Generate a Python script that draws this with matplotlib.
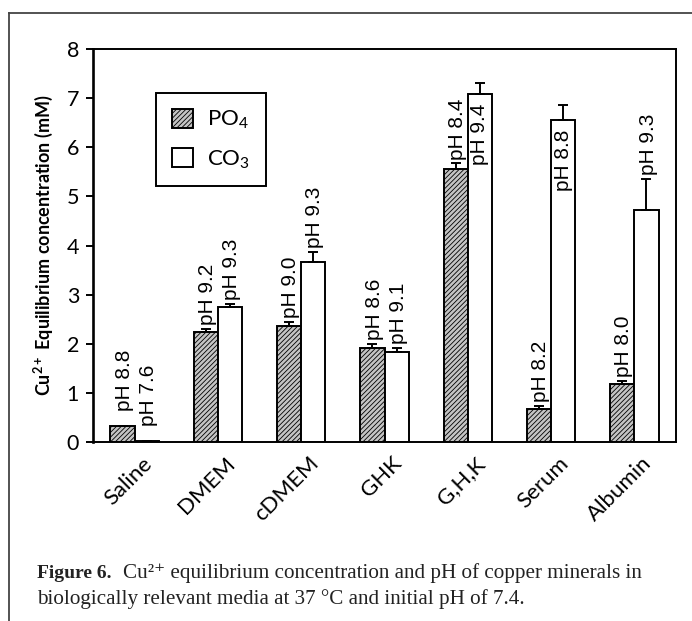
import numpy as np
import matplotlib
matplotlib.use("Agg")
from matplotlib import pyplot as plt
from matplotlib.lines import Line2D
import matplotlib.transforms as mtransforms

categories = ["Saline", "DMEM", "cDMEM", "GHK", "G,H,K", "Serum", "Albumin"]
po4_vals = [0.33, 2.23, 2.37, 1.92, 5.55, 0.68, 1.18]
po4_err = [0.0, 0.07, 0.07, 0.08, 0.12, 0.06, 0.06]
co3_vals = [0.02, 2.74, 3.66, 1.84, 7.08, 6.56, 4.72]
co3_err = [0.0, 0.07, 0.20, 0.07, 0.23, 0.29, 0.64]
po4_ph = ["pH 8.8", "pH 9.2", "pH 9.0", "pH 8.6", "pH 8.4", "pH 8.2", "pH 8.0"]
co3_ph = ["pH 7.6", "pH 9.3", "pH 9.3", "pH 9.1", "pH 9.4", "pH 8.8", "pH 9.3"]
# CO3 labels drawn inside the top of the bar instead of above it
co3_inside = ["G,H,K", "Serum"]

plt.rcParams['font.family'] = ['Lato', 'DejaVu Sans']
plt.rcParams['mathtext.fontset'] = 'custom'
plt.rcParams['mathtext.rm'] = 'Lato'
plt.rcParams['mathtext.bf'] = 'Lato:bold'
plt.rcParams['hatch.linewidth'] = 0.6

fig = plt.figure(figsize=(6.92, 6.21), dpi=100)
ax = fig.add_axes([93/692, 1-442/621, (676-93)/692, (442-49)/621])

x = np.arange(len(categories))
w = 0.29
ax.bar(x - w/2, po4_vals, w, color='#c4c4c4', edgecolor='black',
       linewidth=1.4, hatch='///////', label='PO$_4$')
ax.bar(x + w/2, co3_vals, w, color='white', edgecolor='black',
       linewidth=1.4, label='CO$_3$')
ax.errorbar(x - w/2, po4_vals, yerr=[np.zeros(len(x)), po4_err], fmt='none',
            ecolor='black', elinewidth=1.4, capsize=3.5, capthick=1.4)
ax.errorbar(x + w/2, co3_vals, yerr=[np.zeros(len(x)), co3_err], fmt='none',
            ecolor='black', elinewidth=1.4, capsize=3.5, capthick=1.4)

phfont = dict(family='Liberation Sans', fontsize=15, rotation=90, ha='center')
for i, c in enumerate(categories):
    pad = 0.3 if c == "Saline" else 0.08
    ax.text(x[i] - w/2 + 0.02, po4_vals[i] + po4_err[i] + pad, po4_ph[i], va='bottom', **phfont)
    if c in co3_inside:
        ax.text(x[i] + w/2, co3_vals[i] - 0.2, co3_ph[i], va='top', **phfont)
    else:
        ax.text(x[i] + w/2 + 0.02, co3_vals[i] + co3_err[i] + pad, co3_ph[i], va='bottom', **phfont)

ax.set_xlim(-0.5, 6.5)
ax.set_ylim(0, 8)
ax.set_yticks(range(0, 9))
ax.tick_params(axis='y', labelsize=15.5, length=5, width=1.4, direction='out', pad=5)
ax.tick_params(axis='x', length=0, labelsize=16, pad=6)
ax.set_xticks(x)
ax.set_xticklabels(categories, rotation=45, ha='right', va='center', rotation_mode='anchor')
shift = mtransforms.ScaledTranslation(14/100, -10/100, fig.dpi_scale_trans)
for lab in ax.get_xticklabels():
    lab.set_transform(lab.get_transform() + shift)
for s in ax.spines.values():
    s.set_linewidth(1.4)
ax.spines['left'].set_linewidth(1.9)

ax.set_ylabel(r'Cu$^{\mathbf{2+}}$ Equilibrium concentration (mM)', fontsize=13,
              fontweight='bold', labelpad=8)

leg = ax.legend(loc='upper left', bbox_to_anchor=(0.108, 0.888), borderaxespad=0,
                fontsize=16, fancybox=False, edgecolor='black', framealpha=1,
                handlelength=0.95, handleheight=0.95, labelspacing=0.75,
                borderpad=0.7, handletextpad=0.65)
leg.get_frame().set_linewidth(1.4)

# outer frame of the figure panel
fig.add_artist(Line2D([9/692, 1], [1-13/621, 1-13/621], color='#444444', lw=1.3))
fig.add_artist(Line2D([9/692, 9/692], [0, 1-13/621], color='#444444', lw=1.3))

cap = dict(family=['Liberation Serif', 'DejaVu Serif'], color='#222222')
fig.text(37/692, 1-578/621, 'Figure 6.', fontweight='bold', fontsize=14, **cap)
fig.text(123/692, 1-578/621, 'Cu²⁺ equilibrium concentration and pH of copper minerals in',
         fontsize=15.2, **cap)
fig.text(37/692, 1-604/621, 'biologically relevant media at 37 °C and initial pH of 7.4.',
         fontsize=15.2, **cap)

fig.savefig('out.png', dpi=100)
